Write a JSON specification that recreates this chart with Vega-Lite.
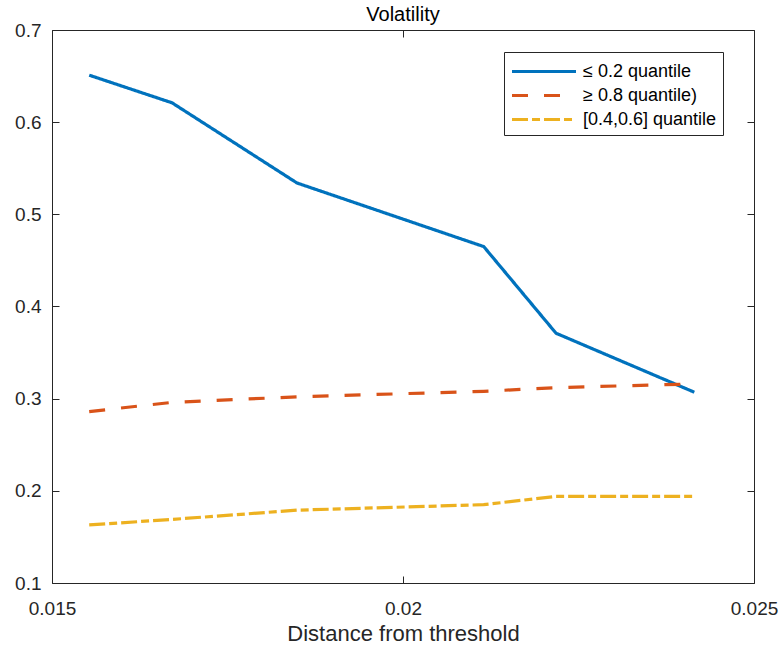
{
  "$schema": "https://vega.github.io/schema/vega-lite/v6.json",
  "autosize": "none",
  "width": 702,
  "height": 553,
  "padding": {"left": 52, "top": 30, "right": 26, "bottom": 69},
  "background": "white",
  "title": {"text": "Volatility", "fontSize": 20, "fontWeight": "normal", "font": "Liberation Sans", "color": "#000000", "offset": -4},
  "config": {
    "font": "Liberation Sans",
    "view": {"stroke": null}
  },
  "data": {"values": [
    {"x": 0.01553, "y": 0.651, "s": "≤ 0.2 quantile"},
    {"x": 0.01671, "y": 0.621, "s": "≤ 0.2 quantile"},
    {"x": 0.01849, "y": 0.534, "s": "≤ 0.2 quantile"},
    {"x": 0.02115, "y": 0.465, "s": "≤ 0.2 quantile"},
    {"x": 0.02218, "y": 0.371, "s": "≤ 0.2 quantile"},
    {"x": 0.02415, "y": 0.307, "s": "≤ 0.2 quantile"},
    {"x": 0.01553, "y": 0.286, "s": "≥ 0.8 quantile)"},
    {"x": 0.01671, "y": 0.296, "s": "≥ 0.8 quantile)"},
    {"x": 0.01849, "y": 0.302, "s": "≥ 0.8 quantile)"},
    {"x": 0.02115, "y": 0.308, "s": "≥ 0.8 quantile)"},
    {"x": 0.02218, "y": 0.312, "s": "≥ 0.8 quantile)"},
    {"x": 0.02415, "y": 0.316, "s": "≥ 0.8 quantile)"},
    {"x": 0.01553, "y": 0.163, "s": "[0.4,0.6] quantile"},
    {"x": 0.01671, "y": 0.169, "s": "[0.4,0.6] quantile"},
    {"x": 0.01849, "y": 0.179, "s": "[0.4,0.6] quantile"},
    {"x": 0.02115, "y": 0.185, "s": "[0.4,0.6] quantile"},
    {"x": 0.02218, "y": 0.194, "s": "[0.4,0.6] quantile"},
    {"x": 0.02415, "y": 0.194, "s": "[0.4,0.6] quantile"}
  ]},
  "layer": [
    {
      "mark": {"type": "line", "opacity": 0},
      "encoding": {
        "x": {"field": "x", "type": "quantitative", "scale": {"domain": [0.015, 0.025], "nice": false, "zero": false},
          "axis": {"orient": "top", "title": null, "labels": false, "values": [0.015, 0.02, 0.025], "tickSize": -7, "tickColor": "#262626", "domainColor": "#262626", "grid": false}},
        "y": {"field": "y", "type": "quantitative", "scale": {"domain": [0.1, 0.7], "nice": false, "zero": false},
          "axis": {"orient": "right", "title": null, "labels": false, "values": [0.1, 0.2, 0.3, 0.4, 0.5, 0.6, 0.7], "tickSize": -7, "tickColor": "#262626", "domainColor": "#262626", "grid": false}},
        "detail": {"field": "s"}
      }
    },
    {
      "mark": {"type": "line", "strokeWidth": 3.2, "strokeCap": "butt"},
      "encoding": {
        "x": {"field": "x", "type": "quantitative", "scale": {"domain": [0.015, 0.025], "nice": false, "zero": false},
          "axis": {"orient": "bottom", "title": "Distance from threshold", "titleFontSize": 22, "titleFontWeight": "normal", "titleColor": "#262626", "titlePadding": 5,
            "values": [0.015, 0.02, 0.025], "format": "~g", "labelFontSize": 19, "labelColor": "#262626", "labelPadding": 23,
            "tickSize": -7, "tickColor": "#262626", "domainColor": "#262626", "gridColor": "#e6e6e6", "labelFlush": false}},
        "y": {"field": "y", "type": "quantitative", "scale": {"domain": [0.1, 0.7], "nice": false, "zero": false},
          "axis": {"orient": "left", "title": null, "values": [0.1, 0.2, 0.3, 0.4, 0.5, 0.6, 0.7], "format": "~g", "labelFontSize": 19, "labelColor": "#262626", "labelPadding": 18,
            "tickSize": -7, "tickColor": "#262626", "domainColor": "#262626", "gridColor": "#e6e6e6", "labelFlush": false}},
        "color": {"field": "s", "type": "nominal",
          "scale": {"domain": ["≤ 0.2 quantile", "≥ 0.8 quantile)", "[0.4,0.6] quantile"], "range": ["#0072BD", "#D95319", "#EDB120"]},
          "legend": {"title": null, "orient": "none", "legendX": 452, "legendY": 22, "symbolType": "M-1,0L4.565,0", "symbolSize": 529, "symbolStrokeWidth": 3.2,
            "labelFontSize": 18, "labelColor": "#000000", "labelOffset": 46, "fillColor": "white", "strokeColor": "#262626", "padding": 6, "rowPadding": 1, "labelLimit": 300}},
        "strokeDash": {"field": "s", "type": "nominal",
          "scale": {"domain": ["≤ 0.2 quantile", "≥ 0.8 quantile)", "[0.4,0.6] quantile"], "range": [[1, 0], [16, 16], [16, 4, 8, 4]]},
          "legend": null}
      }
    }
  ],
  "resolve": {"axis": {"x": "independent", "y": "independent"}}
}
